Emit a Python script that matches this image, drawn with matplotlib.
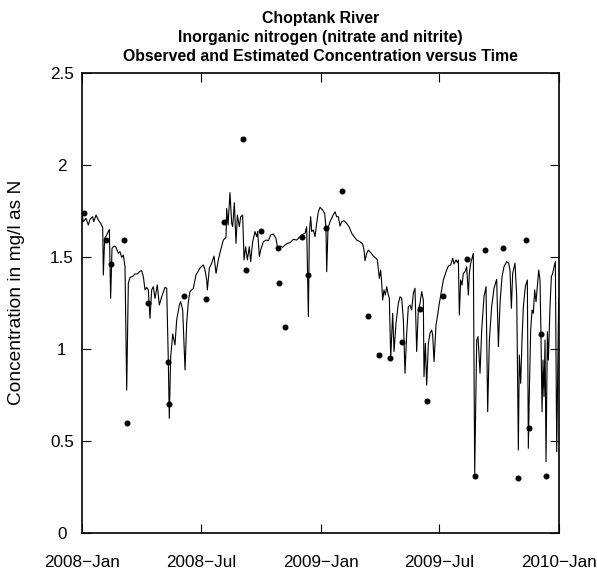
import pandas as pd
import numpy as np
import matplotlib
matplotlib.use('Agg')
import matplotlib.pyplot as plt

#%% data (days since 2008-01-01)

start = pd.Timestamp('2008-01-01')

# estimated daily concentration (vertices of the line)
est_day = [0, 2.0, 6.1, 9.7, 12.3, 16.3, 17.9, 21.5, 25.0, 28.6, 31.7, 32.7, 34.7, 37.8,
           41.9, 43.9, 46.0, 49.0, 52.1, 55.7, 58.2, 60.8, 63.3, 65.9, 68.5, 71.0, 73.6,
           78.7, 81.2, 84.8, 87.9, 91.4, 94.0, 96.6, 99.1, 101.6, 104.2, 106.8, 109.3,
           111.9, 115.4, 118.5, 122.1, 127.2, 129.8, 132.3, 133.8, 135.9, 139.0, 142.5,
           145.1, 149.2, 151.2, 154.3, 157.9, 160.4, 163.0, 165.5, 170.6, 174.7, 180.8,
           186.0, 188.5, 191.1, 192.1, 195.1, 198.7, 202.3, 205.4, 208.9, 212.5, 216.6,
           220.7, 221.7, 223.8, 226.8, 229.4, 230.9, 233.5, 236.0, 238.1, 241.1, 243.2,
           246.2, 248.3, 250.8, 253.4, 256.4, 258.5, 261.6, 265.1, 267.7, 269.2, 271.8,
           273.8, 277.9, 282.0, 285.6, 289.2, 293.2, 297.3, 299.4, 301.4, 303.4, 307.5,
           311.1, 314.7, 318.8, 323.9, 329.0, 333.1, 336.7, 341.8, 344.3, 346.9, 348.4,
           350.4, 352.0, 354.5, 357.1, 359.6, 362.2,
           364.8, 368.8, 371.9, 373.9, 375.0, 377.0, 380.1, 384.2, 387.7, 390.3, 392.8,
           395.4, 398.0, 401.5, 405.6, 409.7, 413.3, 416.9, 421.0, 426.1, 430.1, 432.2,
           433.7, 436.3, 438.8, 442.4, 446.5, 450.6, 452.6, 455.7, 457.7, 459.3, 460.8,
           462.8, 464.9, 466.9, 469.5, 471.0, 473.1, 476.1, 478.2, 481.2, 484.8, 487.4,
           489.9, 492.5, 495.0, 497.6, 500.1, 502.7, 505.2, 507.8, 510.3, 512.9, 515.4,
           518.0, 520.6, 523.1, 524.1, 526.2, 528.2, 530.8, 533.3, 535.9, 537.4, 539.5,
           542.5, 544.6, 547.6,
           551.2, 553.8, 557.9, 561.4, 565.0, 568.1, 570.1, 573.2, 575.2, 576.8, 578.3,
           580.3, 582.4, 584.4, 587.0, 589.5, 592.1, 593.6, 595.7, 597.7, 599.7, 601.8,
           604.9, 606.9, 610.0, 612.5, 616.1, 619.2, 621.7, 624.3, 627.8, 631.4, 635.5,
           638.1, 640.6, 643.7, 646.7, 650.8, 653.9, 655.9, 658.0, 660.0, 663.6, 666.2,
           668.7, 670.2, 672.3, 674.3, 676.4, 679.4, 682.5, 684.0, 685.6, 687.6, 689.7,
           691.7, 693.7, 695.8, 697.8, 699.9, 701.9, 703.4, 705.0, 706.5, 708.0, 709.6,
           711.1, 713.2, 714.7, 717.2, 719.3, 721.3, 723.4, 725.4, 727.5, 730.5]
est_conc = [1.741, 1.692, 1.710, 1.674, 1.705, 1.719, 1.692, 1.728, 1.701, 1.683, 1.661,
            1.402, 1.601, 1.620, 1.650, 1.275, 1.547, 1.560, 1.553, 1.520, 1.529, 1.498,
            1.511, 1.447, 0.777, 1.357, 1.389, 1.397, 1.408, 1.408, 1.420, 1.426, 1.393,
            1.321, 1.335, 1.321, 1.167, 1.321, 1.339, 1.275, 1.348, 1.239, 1.284, 1.335,
            1.330, 0.931, 0.623, 0.958, 1.082, 1.022, 1.158, 1.239, 1.257, 1.212, 0.886,
            1.140, 1.257, 1.312, 1.330, 1.402, 1.440,
            1.457, 1.429, 1.375, 1.321, 1.438, 1.466, 1.505, 1.411, 1.484, 1.538, 1.592,
            1.607, 1.764, 1.674, 1.850, 1.683, 1.665, 1.795, 1.574, 1.728, 1.665, 1.719,
            1.728, 1.484, 1.556, 1.484, 1.556, 1.475, 1.583, 1.638, 1.611, 1.638, 1.502,
            1.538, 1.583, 1.592, 1.589, 1.620, 1.625, 1.601, 1.556, 1.542, 1.560, 1.553,
            1.565, 1.574, 1.578, 1.596, 1.592, 1.607, 1.620, 1.629, 1.665, 1.176, 1.629,
            1.719, 1.638, 1.647, 1.611, 1.683, 1.746,
            1.770, 1.755, 1.737, 1.656, 1.420, 1.656, 1.692, 1.723, 1.746, 1.719, 1.719,
            1.668, 1.692, 1.697, 1.683, 1.661, 1.629, 1.611, 1.592, 1.583, 1.571, 1.538,
            1.480, 1.520, 1.538, 1.524, 1.505, 1.493, 1.484, 1.384, 1.429, 1.357, 1.266,
            1.321, 1.293, 1.339, 1.293, 1.275, 0.949, 1.194, 0.986, 1.140, 1.248, 1.284,
            1.275, 1.158, 0.868, 1.085, 1.230, 1.239, 1.212, 1.303, 1.330, 0.986, 1.212,
            1.248, 1.312, 1.266, 0.850, 1.031, 0.804, 1.031, 1.085, 1.103, 1.076, 0.931,
            1.130, 1.176, 1.248,
            1.321, 1.375, 1.420, 1.451, 1.457, 1.493, 1.462, 1.484, 1.469, 1.484, 1.185,
            1.375, 1.348, 1.411, 1.420, 1.447, 1.293, 1.411, 1.466, 1.493, 1.520, 0.324,
            1.049, 1.067, 0.868, 1.103, 1.284, 1.339, 0.659, 1.049, 1.230, 1.330, 1.379,
            1.013, 1.248, 1.393, 1.447, 1.475, 1.466, 1.429, 1.221, 1.411, 1.466, 1.284,
            0.451, 0.967, 0.813, 1.049, 1.230, 1.339, 1.375, 0.460, 0.777, 1.103, 1.212,
            1.194, 1.321, 1.257, 1.339, 1.429, 1.375, 1.067, 0.659, 0.940, 0.741, 1.049,
            0.388, 1.094, 0.940, 1.230, 1.393, 1.411, 1.447, 1.475, 0.442, 1.275]

# observed samples
obs_day = [3.1, 36.3, 44.4, 64.4, 68.5, 100.7, 131.8, 133.3, 156.3, 189.6, 217.6, 246.7,
           251.3, 274.3, 300.4, 301.9, 311.1, 337.2, 346.4, 373.9, 398.5, 438.3, 455.2,
           472.0, 490.4, 518.0, 528.7, 553.3, 590.0, 602.3, 617.6, 645.2, 668.2, 680.5,
           685.1, 703.4, 711.1]
obs_conc = [1.74, 1.59, 1.46, 1.59, 0.60, 1.25, 0.93, 0.70, 1.29, 1.27, 1.69, 2.14,
            1.43, 1.64, 1.55, 1.36, 1.12, 1.61, 1.40, 1.66, 1.86, 1.18, 0.97,
            0.95, 1.04, 1.22, 0.72, 1.29, 1.49, 0.31, 1.54, 1.55, 0.30, 1.59,
            0.57, 1.08, 0.31]

x_ticks = ['2008-01-01', '2008-07-01', '2009-01-01', '2009-07-01', '2010-01-01']
x_labels = ['2008\u2212Jan', '2008\u2212Jul', '2009\u2212Jan', '2009\u2212Jul', '2010\u2212Jan']
y_ticks = [0, 0.5, 1, 1.5, 2, 2.5]
y_labels = ['0', '0.5', '1', '1.5', '2', '2.5']

#%% plot

plt.rcParams['font.family'] = ['Liberation Sans', 'DejaVu Sans']

est_dates = start + pd.to_timedelta(est_day, unit='D')
obs_dates = start + pd.to_timedelta(obs_day, unit='D')

fig = plt.figure(figsize=(5.97, 5.74), dpi=100)
ax = fig.add_axes([82/597, 41/574, 477/597, 460/574])

ax.plot(est_dates, est_conc, color='black', lw=0.8)
ax.plot(obs_dates, obs_conc, 'o', color='black', ms=3.3)

ax.set_xlim(pd.Timestamp('2008-01-01'), pd.Timestamp('2010-01-01'))
ax.set_ylim(0, 2.5)
ax.set_xticks(pd.to_datetime(x_ticks))
ax.set_xticklabels(x_labels)
ax.set_yticks(y_ticks)
ax.set_yticklabels(y_labels, ha='center')

ax.tick_params(direction='in', length=6.5, width=0.8, top=True, right=True,
               labelsize=12.3)
ax.tick_params(axis='x', pad=15.5)
ax.tick_params(axis='y', pad=14.5)
for s in ax.spines.values():
    s.set_linewidth(1.2)

# y axis title
fig.text(17/597, 1 - 292/574, 'Concentration in mg/l as N', rotation=90,
         ha='center', va='center', fontsize=13.8)

title = ('Choptank River\nInorganic nitrogen (nitrate and nitrite)\n'
         'Observed and Estimated Concentration versus Time')
fig.text(320.5/597, 1 - 11.5/574, title, ha='center', va='top', fontsize=11.4,
         fontweight='bold', linespacing=1.3)

plt.savefig('out.png', dpi=100)
plt.close('all')
